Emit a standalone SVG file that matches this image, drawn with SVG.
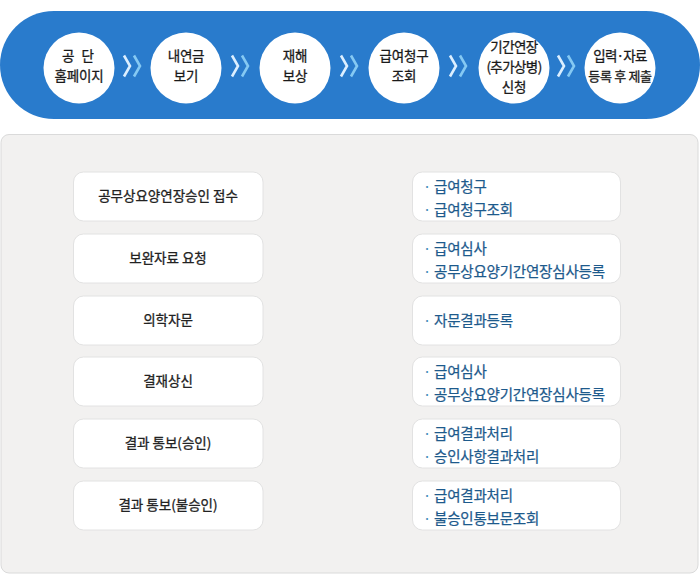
<svg xmlns="http://www.w3.org/2000/svg" width="700" height="583" viewBox="0 0 700 583">
<defs>
<style>
text{font-family:"Noto Sans CJK KR","Noto Sans",sans-serif}
.ct{font-size:13.5px;fill:#1a1a1a;stroke:#1a1a1a;stroke-width:0.3px;text-anchor:middle;letter-spacing:-0.2px}
.lb{fill:#fff;stroke:#e2e2e2;stroke-width:1}
.lt{font-size:13.5px;fill:#222;stroke:#222;stroke-width:0.3px;text-anchor:middle}
.rt{font-size:14.5px;fill:#1d5a8c;stroke:#1d5a8c;stroke-width:0.25px;letter-spacing:-0.2px}
.bu{fill:#3f8cb8;stroke:none}
.c1{fill:none;stroke:#dcefff;stroke-width:2.6}
.c2{fill:none;stroke:#85c9f3;stroke-width:2.6}
.arr{fill:url(#ag)}
</style>
<linearGradient id="ag" gradientUnits="userSpaceOnUse" x1="322" y1="0" x2="360" y2="0">
<stop offset="0" stop-color="#f2f1f0"/>
<stop offset="0.55" stop-color="#c6c6c6"/>
<stop offset="1" stop-color="#a0a0a0"/>
</linearGradient>
<path id="arrow" d="M322,-7 H345 V-12.5 L359,0 L345,12.5 V7 H322 Z"/>
</defs>

<g id="banner">
<rect x="0" y="11" width="700" height="108" rx="54" fill="#297bcc"/>
</g>

<g id="connectors">
<g transform="translate(133,66)"><path class="c1" d="M-9,-10.5 L-3,0 L-9,10.5"/><path class="c2" d="M1,-10.5 L7,0 L1,10.5"/></g>
<g transform="translate(241,66)"><path class="c1" d="M-9,-10.5 L-3,0 L-9,10.5"/><path class="c2" d="M1,-10.5 L7,0 L1,10.5"/></g>
<g transform="translate(350,66)"><path class="c1" d="M-9,-10.5 L-3,0 L-9,10.5"/><path class="c2" d="M1,-10.5 L7,0 L1,10.5"/></g>
<g transform="translate(459,66)"><path class="c1" d="M-9,-10.5 L-3,0 L-9,10.5"/><path class="c2" d="M1,-10.5 L7,0 L1,10.5"/></g>
<g transform="translate(567,66)"><path class="c1" d="M-9,-10.5 L-3,0 L-9,10.5"/><path class="c2" d="M1,-10.5 L7,0 L1,10.5"/></g>
<use href="#arrow" class="arr" transform="translate(0,196.5)"/>
<use href="#arrow" class="arr" transform="translate(0,258.5)"/>
<use href="#arrow" class="arr" transform="translate(0,320.5)"/>
<use href="#arrow" class="arr" transform="translate(0,381.5)"/>
<use href="#arrow" class="arr" transform="translate(0,443.5)"/>
<use href="#arrow" class="arr" transform="translate(0,505.5)"/>
</g>

<g id="step1"><circle cx="79" cy="68" r="35.5" fill="#fff"/>
<text class="ct" x="79" y="61" xml:space="preserve" style="letter-spacing:2px">공 단</text>
<text class="ct" x="79" y="81">홈페이지</text></g>
<g id="step2"><circle cx="186" cy="68" r="35.5" fill="#fff"/>
<text class="ct" x="186" y="61">내연금</text>
<text class="ct" x="186" y="81">보기</text></g>
<g id="step3"><circle cx="295" cy="68" r="35.5" fill="#fff"/>
<text class="ct" x="295" y="61">재해</text>
<text class="ct" x="295" y="81">보상</text></g>
<g id="step4"><circle cx="404" cy="68" r="35.5" fill="#fff"/>
<text class="ct" x="404" y="61">급여청구</text>
<text class="ct" x="404" y="81">조회</text></g>
<g id="step5"><circle cx="514" cy="68" r="35.5" fill="#fff"/>
<text class="ct" x="514" y="52" style="letter-spacing:-0.6px">기간연장</text>
<text class="ct" x="514" y="72" style="letter-spacing:-0.6px">(추가상병)</text>
<text class="ct" x="514" y="92">신청</text></g>
<g id="step6"><circle cx="620" cy="68" r="35.5" fill="#fff"/>
<text class="ct" x="620" y="61" style="letter-spacing:-0.8px">입력·자료</text>
<text class="ct" x="620" y="81" xml:space="preserve" style="font-size:13px;letter-spacing:-0.3px">등록 후 제출</text></g>

<g id="panel">
<rect x="1" y="134.5" width="697" height="438.5" rx="8" fill="#f2f1f0" stroke="#dadada"/>
</g>

<g id="row1">
<rect class="lb" x="73.5" y="172" width="189.5" height="49" rx="10"/>
<text class="lt" x="168" y="201">공무상요양연장승인 접수</text>
<rect class="lb" x="412.5" y="172" width="208" height="49" rx="10"/>
<text class="rt" x="423" y="191.5"><tspan class="bu">·</tspan> 급여청구</text>
<text class="rt" x="423" y="215"><tspan class="bu">·</tspan> 급여청구조회</text>
</g>
<g id="row2">
<rect class="lb" x="73.5" y="234" width="189.5" height="49" rx="10"/>
<text class="lt" x="168" y="263">보완자료 요청</text>
<rect class="lb" x="412.5" y="234" width="208" height="49" rx="10"/>
<text class="rt" x="423" y="253.5"><tspan class="bu">·</tspan> 급여심사</text>
<text class="rt" x="423" y="277"><tspan class="bu">·</tspan> 공무상요양기간연장심사등록</text>
</g>
<g id="row3">
<rect class="lb" x="73.5" y="296" width="189.5" height="49" rx="10"/>
<text class="lt" x="168" y="325">의학자문</text>
<rect class="lb" x="412.5" y="296" width="208" height="49" rx="10"/>
<text class="rt" x="423" y="325.5"><tspan class="bu">·</tspan> 자문결과등록</text>
</g>
<g id="row4">
<rect class="lb" x="73.5" y="357" width="189.5" height="49" rx="10"/>
<text class="lt" x="168" y="386">결재상신</text>
<rect class="lb" x="412.5" y="357" width="208" height="49" rx="10"/>
<text class="rt" x="423" y="376.5"><tspan class="bu">·</tspan> 급여심사</text>
<text class="rt" x="423" y="400"><tspan class="bu">·</tspan> 공무상요양기간연장심사등록</text>
</g>
<g id="row5">
<rect class="lb" x="73.5" y="419" width="189.5" height="49" rx="10"/>
<text class="lt" x="168" y="448">결과 통보(승인)</text>
<rect class="lb" x="412.5" y="419" width="208" height="49" rx="10"/>
<text class="rt" x="423" y="438.5"><tspan class="bu">·</tspan> 급여결과처리</text>
<text class="rt" x="423" y="462"><tspan class="bu">·</tspan> 승인사항결과처리</text>
</g>
<g id="row6">
<rect class="lb" x="73.5" y="481" width="189.5" height="49" rx="10"/>
<text class="lt" x="168" y="510">결과 통보(불승인)</text>
<rect class="lb" x="412.5" y="481" width="208" height="49" rx="10"/>
<text class="rt" x="423" y="500.5"><tspan class="bu">·</tspan> 급여결과처리</text>
<text class="rt" x="423" y="524"><tspan class="bu">·</tspan> 불승인통보문조회</text>
</g>
</svg>
